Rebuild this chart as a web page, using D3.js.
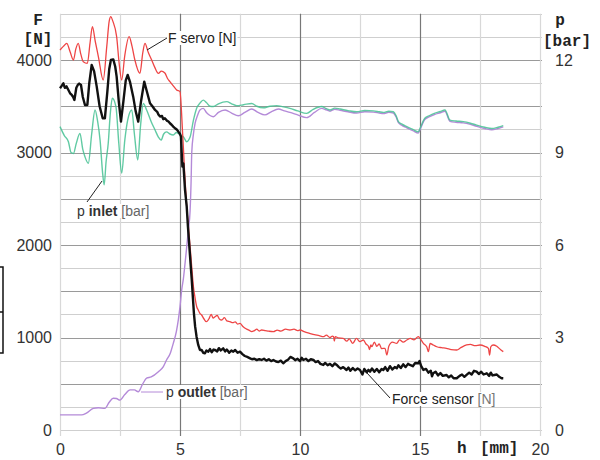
<!DOCTYPE html>
<html>
<head>
<meta charset="utf-8">
<script src="https://cdn.jsdelivr.net/npm/d3@7"></script>
<style>
  body { margin: 0; background: #fff; }
  svg { display: block; }
  .tick text { font-family: "Liberation Sans", Arial, sans-serif; font-size: 16px; fill: #333; }
  .unit { font-family: "Liberation Mono", "Courier New", monospace; font-size: 16px; font-weight: bold; fill: #222; }
  .note { font-family: "Liberation Sans", Arial, sans-serif; font-size: 14px; fill: #222; }
</style>
</head>
<body>
<svg id="chart" width="600" height="460"></svg>
<script>
// h [mm] vs force [N]
const fServo = [[0,4108],[0.15,4150],[0.28,4180],[0.42,4090],[0.56,4000],[0.66,4120],[0.76,4180],[0.87,4060],[0.97,3982],[1.14,3964],[1.25,4180],[1.35,4360],[1.47,4200],[1.6,4035],[1.8,3784],[1.95,4150],[2.05,4420],[2.12,4468],[2.2,4420],[2.36,4252],[2.47,3950],[2.57,3784],[2.7,4050],[2.88,4252],[3.0,4150],[3.12,4000],[3.33,3856],[3.45,4080],[3.54,4180],[3.68,4080],[3.82,4000],[3.95,3920],[4.1,3856],[4.22,3880],[4.37,3860],[4.48,3800],[4.58,3766],[4.72,3720],[4.86,3676],[5.0,3658],[5.05,3500],[5.1,3250],[5.14,3060],[5.2,2750],[5.28,2414],[5.35,2200],[5.42,1982],[5.49,1760],[5.56,1549],[5.62,1441],[5.7,1330],[5.76,1297],[5.83,1261],[5.9,1243],[6.0,1200],[6.1,1171],[6.2,1200],[6.3,1250],[6.38,1210],[6.46,1225],[6.55,1240],[6.64,1200],[6.74,1189],[6.85,1215],[6.95,1180],[7.08,1171],[7.2,1160],[7.3,1170],[7.4,1145],[7.5,1153],[7.62,1120],[7.75,1095],[7.87,1080],[7.99,1063],[8.1,1075],[8.2,1090],[8.3,1070],[8.4,1081],[8.55,1075],[8.7,1068],[8.89,1063],[9.05,1080],[9.2,1070],[9.4,1090],[9.58,1081],[9.75,1090],[9.9,1075],[10.0,1081],[10.2,1060],[10.4,1045],[10.6,1030],[10.8,1020],[10.97,1009],[11.1,1025],[11.25,1000],[11.35,1015],[11.4,1009],[11.43,960],[11.47,1010],[11.6,995],[11.8,991],[11.95,960],[12.05,985],[12.2,937],[12.35,990],[12.5,955],[12.64,973],[12.75,930],[12.85,905],[12.9,870],[12.95,920],[12.99,901],[13.1,950],[13.2,905],[13.3,930],[13.4,880],[13.54,883],[13.62,811],[13.7,905],[13.85,950],[14.03,937],[14.15,975],[14.3,950],[14.45,973],[14.6,990],[14.75,975],[14.93,1009],[15.0,990],[15.14,937],[15.28,900],[15.35,847],[15.42,935],[15.55,919],[15.7,900],[15.9,890],[16.1,883],[16.3,870],[16.53,865],[16.7,890],[16.94,919],[17.1,925],[17.3,912],[17.5,919],[17.7,905],[17.85,883],[17.9,811],[17.95,900],[18.05,919],[18.2,905],[18.35,870],[18.47,847]];

const forceSensor = [[0,3694],[0.07,3720],[0.14,3748],[0.2,3700],[0.27,3715],[0.35,3676],[0.42,3640],[0.49,3622],[0.55,3600],[0.6,3568],[0.68,3700],[0.74,3730],[0.8,3745],[0.875,3730],[0.95,3600],[1.04,3514],[1.14,3514],[1.22,3750],[1.32,3946],[1.42,3880],[1.53,3712],[1.65,3500],[1.78,3370],[1.87,3370],[1.97,3650],[2.05,3900],[2.12,4000],[2.22,4007],[2.3,3930],[2.36,3820],[2.45,3550],[2.54,3334],[2.64,3550],[2.74,3780],[2.82,3838],[2.92,3760],[3.05,3604],[3.15,3450],[3.26,3334],[3.38,3560],[3.51,3766],[3.62,3660],[3.75,3532],[3.85,3500],[3.96,3460],[4.05,3440],[4.1,3410],[4.17,3388],[4.25,3395],[4.3,3360],[4.37,3370],[4.45,3345],[4.52,3335],[4.58,3316],[4.65,3300],[4.72,3280],[4.79,3262],[4.86,3250],[4.93,3226],[5.0,3200],[5.04,3172],[5.07,3000],[5.1,2847],[5.14,2883],[5.21,2594],[5.28,2414],[5.33,2200],[5.39,1982],[5.44,1800],[5.49,1622],[5.54,1420],[5.58,1261],[5.63,1120],[5.69,1009],[5.76,920],[5.83,865],[5.9,865],[5.97,835],[6.04,829],[6.1,860],[6.18,847],[6.25,875],[6.32,840],[6.4,870],[6.46,865],[6.55,850],[6.62,885],[6.7,860],[6.8,883],[6.88,850],[6.95,870],[7.05,835],[7.14,860],[7.22,847],[7.3,865],[7.4,835],[7.5,847],[7.6,820],[7.7,800],[7.8,790],[7.92,775],[8.0,765],[8.1,770],[8.2,755],[8.3,765],[8.4,757],[8.5,770],[8.6,750],[8.7,765],[8.8,745],[8.89,757],[9.0,740],[9.1,735],[9.2,750],[9.3,721],[9.4,745],[9.5,760],[9.6,790],[9.72,775],[9.8,755],[9.9,770],[10.0,745],[10.07,780],[10.14,757],[10.25,770],[10.35,745],[10.45,765],[10.56,757],[10.65,735],[10.75,745],[10.85,715],[10.97,703],[11.05,725],[11.15,700],[11.25,715],[11.35,690],[11.45,720],[11.53,703],[11.62,680],[11.7,665],[11.8,680],[11.94,649],[12.02,675],[12.1,640],[12.2,670],[12.3,645],[12.4,665],[12.5,649],[12.6,600],[12.68,660],[12.78,625],[12.85,650],[12.92,631],[13.0,665],[13.1,630],[13.2,660],[13.3,625],[13.4,660],[13.47,649],[13.55,680],[13.65,640],[13.75,690],[13.85,655],[13.95,680],[14.03,667],[14.1,700],[14.2,670],[14.3,710],[14.4,680],[14.5,715],[14.58,703],[14.7,690],[14.8,725],[14.93,721],[14.98,745],[15.05,690],[15.14,649],[15.25,660],[15.35,620],[15.45,640],[15.5,580],[15.55,613],[15.65,630],[15.75,590],[15.85,615],[15.95,585],[16.1,595],[16.2,570],[16.3,590],[16.4,560],[16.53,559],[16.65,585],[16.75,600],[16.85,575],[16.94,595],[17.05,620],[17.15,600],[17.25,640],[17.36,631],[17.45,605],[17.55,630],[17.65,600],[17.78,613],[17.88,585],[17.95,620],[18.02,590],[18.1,595],[18.2,600],[18.3,575],[18.4,560],[18.47,559]];

// h [mm] vs pressure [bar]
const pInlet = [[0,9.84],[0.18,9.55],[0.35,9.35],[0.46,9.0],[0.56,8.97],[0.68,9.3],[0.83,9.62],[0.95,9.1],[1.04,8.86],[1.18,8.65],[1.32,9.6],[1.46,10.38],[1.57,10.0],[1.67,9.40],[1.78,8.3],[1.84,7.95],[1.92,8.7],[2.01,9.30],[2.1,10.3],[2.18,10.76],[2.33,10.49],[2.45,9.3],[2.57,8.33],[2.7,9.4],[2.82,10.05],[2.99,10.38],[3.1,9.6],[3.24,8.76],[3.36,9.9],[3.47,10.59],[3.61,10.38],[3.8,10.0],[3.96,9.73],[4.1,9.5],[4.21,9.40],[4.32,9.6],[4.44,9.67],[4.58,9.6],[4.72,9.57],[4.85,9.65],[4.93,9.62],[5.05,9.55],[5.14,9.51],[5.28,9.35],[5.42,9.5],[5.56,10.05],[5.69,10.43],[5.83,10.6],[5.97,10.70],[6.1,10.62],[6.25,10.5],[6.39,10.49],[6.6,10.58],[6.95,10.65],[7.15,10.58],[7.36,10.52],[7.65,10.55],[7.99,10.59],[8.2,10.5],[8.47,10.45],[8.75,10.5],[9.03,10.52],[9.3,10.48],[9.58,10.43],[9.9,10.35],[10.28,10.27],[10.55,10.4],[10.9,10.49],[11.1,10.42],[11.25,10.38],[11.45,10.44],[11.67,10.41],[12.0,10.36],[12.36,10.32],[12.7,10.36],[13.06,10.35],[13.3,10.32],[13.47,10.30],[13.7,10.34],[13.89,10.32],[14.0,10.2],[14.1,10.0],[14.25,9.92],[14.45,9.84],[14.7,9.75],[14.93,9.67],[15.0,9.78],[15.2,10.11],[15.4,10.2],[15.6,10.27],[15.85,10.33],[16.04,10.38],[16.25,10.05],[16.5,10.02],[16.8,10.0],[17.1,9.95],[17.36,9.89],[17.7,9.82],[17.99,9.78],[18.25,9.82],[18.47,9.87]];

const pOutlet = [[0,0.49],[0.5,0.49],[0.9,0.49],[1.1,0.55],[1.39,0.70],[1.6,0.72],[1.87,0.70],[2.05,0.9],[2.22,1.03],[2.35,1.02],[2.5,0.97],[2.7,1.15],[2.92,1.30],[3.1,1.3],[3.26,1.24],[3.45,1.5],[3.61,1.68],[3.8,1.72],[4.1,1.89],[4.3,2.05],[4.44,2.27],[4.6,2.5],[4.72,2.81],[4.85,3.2],[4.93,3.57],[5.0,4.0],[5.07,4.54],[5.14,4.9],[5.21,5.4],[5.28,5.94],[5.35,6.5],[5.42,7.10],[5.46,8.0],[5.49,9.0],[5.56,9.6],[5.63,9.95],[5.73,10.2],[5.83,10.38],[5.97,10.43],[6.1,10.3],[6.25,10.2],[6.39,10.16],[6.6,10.3],[6.88,10.38],[7.15,10.28],[7.43,10.19],[7.7,10.3],[7.99,10.41],[8.25,10.3],[8.54,10.22],[8.8,10.32],[9.1,10.41],[9.35,10.35],[9.58,10.30],[9.9,10.22],[10.28,10.13],[10.6,10.3],[10.9,10.43],[11.1,10.38],[11.25,10.34],[11.45,10.4],[11.67,10.37],[12.0,10.32],[12.36,10.28],[12.7,10.32],[13.06,10.31],[13.3,10.28],[13.47,10.26],[13.7,10.3],[13.89,10.28],[14.0,10.16],[14.1,9.97],[14.25,9.88],[14.45,9.8],[14.7,9.71],[14.93,9.63],[15.0,9.74],[15.2,10.07],[15.4,10.16],[15.6,10.23],[15.85,10.29],[16.04,10.34],[16.25,10.01],[16.5,9.98],[16.8,9.96],[17.1,9.91],[17.36,9.85],[17.7,9.78],[17.99,9.74],[18.25,9.78],[18.47,9.83]];

const xTicks = [0, 5, 10, 15, 20];
const fTicks = [0, 1000, 2000, 3000, 4000];
const pTicks = [0, 3, 6, 9, 12];

const svg = d3.select('#chart')

const x = d3.scaleLinear().domain([0, 20]).range([60, 540])
const yF = d3.scaleLinear().domain([0, 4500]).range([430, 13.75])
const yP = d3.scaleLinear().domain([0, 13.5]).range([430, 13.75])

// grid
let grid = svg.append('g')
grid.selectAll('.hgrid')
    .data(d3.range(0, 4501, 250))
    .enter()
    .append('line')
    .attr('x1', x(0)).attr('x2', x(20) + 2)
    .attr('y1', d => Math.round(yF(d)) + 0.5)
    .attr('y2', d => Math.round(yF(d)) + 0.5)
    .attr('stroke', d => (d % 500 == 0 && d > 0 && d < 4500) ? '#9a9a9a' : '#cfcfcf')
    .attr('stroke-width', 1.2)
grid.selectAll('.vgrid')
    .data(d3.range(0, 20.1, 2.5))
    .enter()
    .append('line')
    .attr('x1', d => Math.round(x(d)) + 0.5)
    .attr('x2', d => Math.round(x(d)) + 0.5)
    .attr('y1', yF(4500)).attr('y2', yF(0) + 6)
    .attr('stroke', d => (d % 5 == 0 && d > 0 && d < 20) ? '#777' : '#d8d8d8')
    .attr('stroke-width', 1.2)

// axes
let axL = svg.append('g')
    .attr('transform', `translate(${x(0)},0)`)
    .call(d3.axisLeft(yF).tickValues(fTicks).tickFormat(d3.format('d')).tickSize(0).tickPadding(8))
let axR = svg.append('g')
    .attr('transform', `translate(${x(20)},0)`)
    .call(d3.axisRight(yP).tickValues(pTicks).tickFormat(d3.format('d')).tickSize(0).tickPadding(15))
let axB = svg.append('g')
    .attr('transform', `translate(0,${yF(0)})`)
    .call(d3.axisBottom(x).tickValues(xTicks).tickFormat(d3.format('d')).tickSize(0).tickPadding(14))
svg.selectAll('.domain').remove()

// axis titles
svg.append('text').attr('class', 'unit').attr('x', 38).attr('y', 25).attr('text-anchor', 'middle').text('F')
svg.append('text').attr('class', 'unit').attr('x', 38).attr('y', 44).attr('text-anchor', 'middle').text('[N]')
svg.append('text').attr('class', 'unit').attr('x', 560).attr('y', 25).attr('text-anchor', 'middle').text('p')
svg.append('text').attr('class', 'unit').attr('x', 567).attr('y', 46).attr('text-anchor', 'middle').text('[bar]')
svg.append('text').attr('class', 'unit').attr('x', 457).attr('y', 453).text('h')
svg.append('text').attr('class', 'unit').attr('x', 480).attr('y', 453).text('[mm]')

// stray bracket at left edge
svg.append('path')
    .attr('d', 'M0,267H3V353H0M0,312H3')
    .attr('fill', 'none').attr('stroke', '#111').attr('stroke-width', 1.5)

// lines
let lineF = d3.line().x(d => x(d[0])).y(d => yF(d[1])).curve(d3.curveMonotoneX)
let lineP = d3.line().x(d => x(d[0])).y(d => yP(d[1])).curve(d3.curveMonotoneX)
let lineJag = d3.line().x(d => x(d[0])).y(d => yF(d[1]))

svg.append('path').datum(pOutlet).attr('d', lineP)
    .attr('fill', 'none').attr('stroke', '#b48ad8').attr('stroke-width', 1.4)
svg.append('path').datum(pInlet).attr('d', lineP)
    .attr('fill', 'none').attr('stroke', '#45c193').attr('stroke-width', 1.4).attr('stroke-opacity', 0.85)
svg.append('path').datum(fServo).attr('d', lineF)
    .attr('fill', 'none').attr('stroke', '#ee4545').attr('stroke-width', 1.3)
svg.append('path').datum(forceSensor).attr('d', lineJag)
    .attr('fill', 'none').attr('stroke', '#111').attr('stroke-width', 2.4).attr('stroke-linejoin', 'round')

// annotations
let notes = [
    {parts: [['F servo [N]', 'normal', '#222']], x: 168, y: 43, leader: [[147, 50], [167, 38]], lc: '#222'},
    {parts: [['p ', 'normal', '#333'], ['inlet', 'bold', '#333'], [' [bar]', 'normal', '#666']], x: 77, y: 216, leader: [[102, 181], [87, 202]], lc: '#222'},
    {parts: [['p ', 'normal', '#333'], ['outlet', 'bold', '#333'], [' [bar]', 'normal', '#666']], x: 166, y: 397, leader: [[141, 392], [163, 392]], lc: '#b48ad8'},
    {parts: [['Force sensor', 'normal', '#222'], [' [N]', 'normal', '#777']], x: 392, y: 404, leader: [[367, 373], [390, 398]], lc: '#222'}
]
notes.forEach(n => {
    let g = svg.append('g')
    let bg = g.append('rect').attr('fill', '#fff')
    let t = g.append('text').attr('class', 'note').attr('x', n.x).attr('y', n.y)
    n.parts.forEach(p => {
        t.append('tspan').text(p[0]).attr('font-weight', p[1]).attr('fill', p[2]).style('white-space', 'pre')
    })
    t.attr('xml:space', 'preserve')
    let bb = t.node().getBBox()
    bg.attr('x', bb.x - 1).attr('y', bb.y + 1).attr('width', bb.width + 2).attr('height', bb.height - 2)
    svg.append('path')
        .attr('d', d3.line()(n.leader))
        .attr('stroke', n.lc).attr('stroke-width', 1).attr('fill', 'none')
})
</script>
</body>
</html>
